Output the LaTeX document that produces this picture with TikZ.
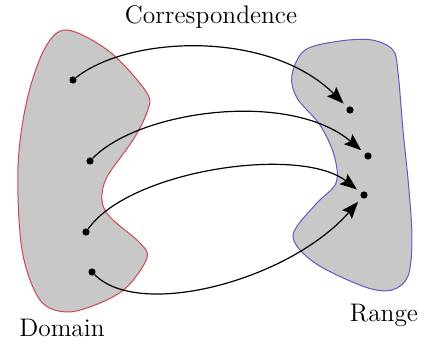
\documentclass[tikz,border=0pt]{standalone}
\usetikzlibrary{arrows.meta}
\definecolor{domainred}{RGB}{205,70,80}
\definecolor{rangeblue}{RGB}{95,90,200}
\definecolor{blobgray}{RGB}{200,200,200}
\begin{document}
\begin{tikzpicture}[x=0.5pt,y=-0.5pt,font=\fontsize{12.7}{15}\selectfont,
  dot/.style={circle,fill=black,inner sep=0pt,minimum size=3.6pt},
  corr/.style={line width=0.6pt,-{Stealth[length=8.5pt,width=6.5pt,inset=1.5pt]},shorten >=2.5pt}]

\useasboundingbox (0,0) rectangle (430,348);

% Domain
\draw[domainred,fill=blobgray,line width=0.5pt]
plot[smooth cycle,tension=0.55] coordinates {
(67,30) (110,52) (147,93) (147,112) (133,140) (107,177) (102,200)
(110,217) (140,243) (147,258) (127,287) (100,303) (67,312)
(40,300) (22,250) (18,167) (27,100) (45,48)};

% Range
\draw[rangeblue,fill=blobgray,line width=0.5pt]
plot[smooth cycle,tension=0.55] coordinates {
(305,50) (340,41) (372,40) (393,50) (398,72) (403,130) (409,190)
(412,240) (408,276) (392,290) (365,287) (315,263) (293,236)
(315,205) (336,183) (334,155) (320,125) (297,98) (292,75)};

% Elements
\node[dot] (d1) at (73,80) {};
\node[dot] (d2) at (90,161) {};
\node[dot] (d3) at (86,232) {};
\node[dot] (d4) at (92,272) {};

\node[dot] (r1) at (350,110) {};
\node[dot] (r2) at (368,156) {};
\node[dot] (r3) at (364,195) {};

% Correspondence
\draw[corr] (d1) .. controls (130,35) and (270,30) .. (r1);
\draw[corr] (d2) .. controls (140,110) and (290,90) .. (r2);
\draw[corr] (d3) .. controls (130,170) and (300,145) .. (r3);
\draw[corr] (d4) .. controls (140,320) and (290,280) .. (r3);

% Labels
\node (corrlabel) at (211,17) {Correspondence};
\node (domlabel) at (62,328) {Domain};
\node (rnglabel) at (384,315) {Range};

\end{tikzpicture}
\end{document}
